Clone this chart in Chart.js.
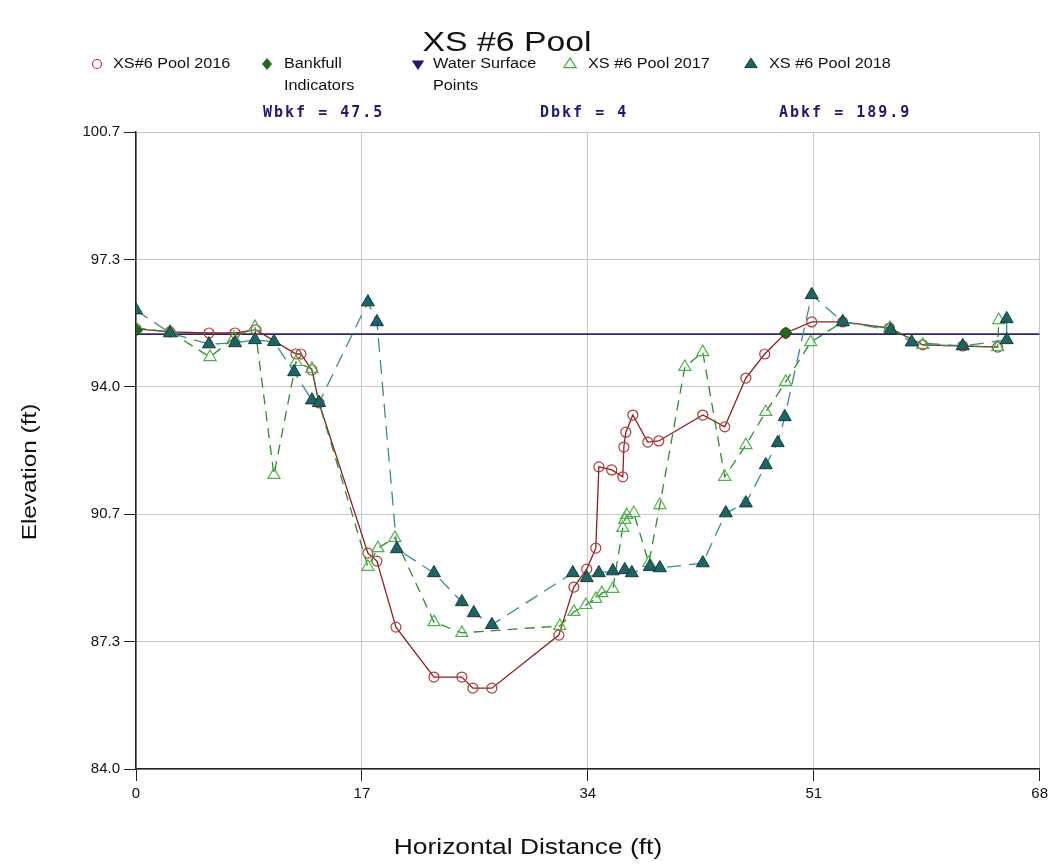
<!DOCTYPE html>
<html><head><meta charset="utf-8">
<script src="https://cdn.jsdelivr.net/npm/chart.js@4.4.0/dist/chart.umd.min.js"></script>
<style>html,body{margin:0;padding:0;background:#fff}#wrap{width:1052px;height:865px;position:relative}</style>
</head><body><div id="wrap"><canvas id="c" width="1052" height="865"></canvas></div>
<script>
// ---- data ----
const x2016 = [0, 2.56, 5.49, 7.45, 9.03, 12.04, 12.41, 13.24, 13.77, 17.45, 18.13, 19.56, 22.42, 24.52, 25.35, 26.78, 31.82, 32.95, 33.92, 34.6, 34.83, 35.8, 36.63, 36.71, 36.86, 37.39, 38.51, 39.34, 42.65, 44.3, 45.89, 47.31, 48.89, 50.85, 53.18, 56.7, 59.2, 62.21, 64.84];
const y2016 = [95.54, 95.46, 95.43, 95.43, 95.51, 94.88, 94.88, 94.46, 93.6, 89.66, 89.45, 87.72, 86.41, 86.41, 86.12, 86.12, 87.51, 88.77, 89.24, 89.79, 91.92, 91.84, 91.66, 92.44, 92.83, 93.28, 92.57, 92.6, 93.28, 92.97, 94.25, 94.88, 95.43, 95.72, 95.72, 95.56, 95.12, 95.09, 95.06];
const x2017 = [0, 2.56, 5.57, 7.37, 8.95, 10.38, 12.04, 13.24, 13.77, 17.45, 18.2, 19.48, 22.42, 24.52, 31.89, 32.95, 33.85, 34.6, 35.05, 35.88, 36.63, 36.78, 36.93, 37.46, 38.59, 39.42, 41.3, 42.65, 44.3, 45.89, 47.39, 48.89, 50.77, 53.18, 56.72, 59.2, 62.21, 64.84, 64.92];
const y2017 = [95.56, 95.46, 94.8, 95.3, 95.59, 91.71, 94.67, 94.49, 93.6, 89.3, 89.79, 90.06, 87.85, 87.57, 87.75, 88.12, 88.3, 88.46, 88.61, 88.72, 90.32, 90.53, 90.66, 90.71, 89.4, 90.92, 94.54, 94.93, 91.66, 92.49, 93.36, 94.15, 95.19, 95.72, 95.56, 95.12, 95.09, 95.06, 95.77];
const x2018 = [0, 2.56, 5.49, 7.45, 8.95, 10.38, 11.9, 13.24, 13.77, 17.45, 18.13, 19.63, 22.42, 24.52, 25.42, 26.78, 32.87, 33.92, 34.83, 35.88, 36.78, 37.31, 38.66, 39.42, 42.65, 44.38, 45.89, 47.39, 48.29, 48.82, 50.85, 53.18, 56.79, 58.37, 62.21, 65.52, 65.52];
const y2018 = [96.03, 95.43, 95.14, 95.17, 95.25, 95.2, 94.41, 93.67, 93.6, 96.24, 95.72, 89.77, 89.14, 88.38, 88.09, 87.78, 89.14, 89.01, 89.14, 89.19, 89.22, 89.14, 89.3, 89.27, 89.4, 90.71, 90.97, 91.97, 92.55, 93.23, 96.43, 95.72, 95.51, 95.19, 95.09, 95.25, 95.8];
const xBankfull = [0, 48.89];
const yBankfull = [95.5, 95.43];
const xWaterLine = [0, 68];
const yWaterLine = [95.4, 95.4];
const xTicks = [0, 17, 34, 51, 68];
const yTicks = [84.0, 87.34, 90.68, 94.02, 97.36, 100.7];
const yTickLabels = ['84.0', '87.3', '90.7', '94.0', '97.3', '100.7'];
const titleText = 'XS #6 Pool';
const legendLabels = [['XS#6 Pool 2016'], ['Bankfull', 'Indicators'], ['Water Surface', 'Points'], ['XS #6 Pool 2017'], ['XS #6 Pool 2018']];
const statLabels = ['Wbkf = 47.5', 'Dbkf = 4', 'Abkf = 189.9'];
const xTitle = 'Horizontal Distance (ft)';
const yTitle = 'Elevation (ft)';

const pts = (xs, ys) => xs.map((x, i) => ({x: x, y: ys[i]}));
const SX = 1.16;
const FONT = '"Liberation Sans", Arial, sans-serif';

function sText(ctx, txt, x, y, font, color, align, sx) {
  ctx.save();
  ctx.font = font; ctx.fillStyle = color; ctx.textBaseline = 'middle'; ctx.textAlign = 'left';
  const w = ctx.measureText(txt).width * sx;
  const x0 = align === 'center' ? x - w / 2 : (align === 'right' ? x - w : x);
  ctx.translate(x0, y); ctx.scale(sx, 1); ctx.fillText(txt, 0, 0);
  ctx.restore();
}
function tri(ctx, x, y, r, down) {
  ctx.beginPath();
  const h = r * 1.5, w = r * 0.866 * 1.5;
  if (!down) { ctx.moveTo(x, y - h * 0.66); ctx.lineTo(x + w * 0.8, y + h * 0.4); ctx.lineTo(x - w * 0.8, y + h * 0.4); }
  else { ctx.moveTo(x, y + h * 0.66); ctx.lineTo(x + w * 0.8, y - h * 0.4); ctx.lineTo(x - w * 0.8, y - h * 0.4); }
  ctx.closePath();
}

const decor = {
  id: 'decor',
  afterDraw(chart) {
    const ctx = chart.ctx;
    // title
    sText(ctx, titleText, 507, 44, '27px ' + FONT, '#111', 'center', 1.25);
    // legend
    const lf = '14px ' + FONT;
    ctx.save(); ctx.strokeStyle = '#b03a3a'; ctx.lineWidth = 1.2; ctx.beginPath(); ctx.arc(97, 64, 4.5, 0, Math.PI * 2); ctx.stroke(); ctx.restore();
    sText(ctx, legendLabels[0][0], 113, 64, lf, '#111', 'left', SX);
    ctx.save(); ctx.fillStyle = '#1e6b1e'; ctx.beginPath(); ctx.moveTo(267, 58); ctx.lineTo(272, 64); ctx.lineTo(267, 70); ctx.lineTo(262, 64); ctx.closePath(); ctx.fill(); ctx.restore();
    sText(ctx, legendLabels[1][0], 284, 64, lf, '#111', 'left', SX);
    sText(ctx, legendLabels[1][1], 284, 86, lf, '#111', 'left', SX);
    ctx.save(); ctx.fillStyle = '#1a1a6e'; tri(ctx, 418, 64, 6, true); ctx.fill(); ctx.restore();
    sText(ctx, legendLabels[2][0], 433, 64, lf, '#111', 'left', SX);
    sText(ctx, legendLabels[2][1], 433, 86, lf, '#111', 'left', SX);
    ctx.save(); ctx.strokeStyle = '#3fae3f'; ctx.lineWidth = 1.2; tri(ctx, 570, 64, 6, false); ctx.stroke(); ctx.restore();
    sText(ctx, legendLabels[3][0], 588, 64, lf, '#111', 'left', SX);
    ctx.save(); ctx.fillStyle = '#1f6464'; ctx.strokeStyle = '#123c3c'; tri(ctx, 751, 64, 6, false); ctx.fill(); ctx.stroke(); ctx.restore();
    sText(ctx, legendLabels[4][0], 769, 64, lf, '#111', 'left', SX);
    // stats
    ctx.save();
    ctx.letterSpacing = '2px';
    const sf = 'bold 15px "DejaVu Sans Mono", monospace';
    sText(ctx, statLabels[0], 263, 113, sf, '#1c1c6e', 'left', 1);
    sText(ctx, statLabels[1], 540, 113, sf, '#1c1c6e', 'left', 1);
    sText(ctx, statLabels[2], 779, 113, sf, '#1c1c6e', 'left', 1);
    ctx.restore();
    // axis titles
    sText(ctx, xTitle, 528, 848, '22px ' + FONT, '#111', 'center', 1.2);
    ctx.save(); ctx.translate(30, 472); ctx.rotate(-Math.PI / 2);
    sText(ctx, yTitle, 0, 0, '21px ' + FONT, '#111', 'center', 1.16);
    ctx.restore();
  }
};

new Chart(document.getElementById('c'), {
  type: 'scatter',
  data: {
    datasets: [
      { label: 'XS #6 Pool 2018', data: pts(x2018, y2018), showLine: true, order: 0,
        borderColor: '#3b8c8c', borderWidth: 1.3, borderDash: [14, 8],
        pointStyle: 'triangle', pointRadius: 7.5, pointBackgroundColor: '#1f6464', pointBorderColor: '#123c3c', pointBorderWidth: 1 },
      { label: 'Bankfull Indicators', data: pts(xBankfull, yBankfull), showLine: false, order: 1,
        pointStyle: 'rectRot', pointRadius: 6, pointBackgroundColor: '#1e6b1e', pointBorderColor: '#124012', pointBorderWidth: 1 },
      { label: 'XS #6 Pool 2017', data: pts(x2017, y2017), showLine: true, order: 2,
        borderColor: '#2e8b2e', borderWidth: 1.3, borderDash: [10, 7],
        pointStyle: 'triangle', pointRadius: 7, pointBackgroundColor: 'rgba(0,0,0,0)', pointBorderColor: '#4cb44c', pointBorderWidth: 1.2 },
      { label: 'XS#6 Pool 2016', data: pts(x2016, y2016), showLine: true, order: 3,
        borderColor: '#8b2020', borderWidth: 1.3,
        pointStyle: 'circle', pointRadius: 5, pointBackgroundColor: 'rgba(0,0,0,0)', pointBorderColor: '#b03a3a', pointBorderWidth: 1.2 },
      { label: 'Water Surface', data: pts(xWaterLine, yWaterLine), showLine: true, order: 4,
        borderColor: '#2a2a62', borderWidth: 1.6, pointRadius: 0 }
    ]
  },
  options: {
    responsive: false, animation: false, devicePixelRatio: 1,
    layout: { padding: { top: 132, right: 12, left: 0, bottom: 0 } },
    plugins: { legend: { display: false }, tooltip: { enabled: false }, title: { display: false } },
    scales: {
      x: {
        type: 'linear', min: 0, max: 68,
        afterBuildTicks: s => { s.ticks = xTicks.map(v => ({ value: v })); },
        afterFit: s => { s.height = 96; },
        ticks: { font: { family: 'Liberation Sans', size: 15 }, color: '#111', padding: 4, maxRotation: 0, autoSkip: false },
        grid: { color: '#c8c8c8', lineWidth: 1, tickColor: '#222', tickLength: 12 },
        border: { color: '#222', width: 1.5 }
      },
      y: {
        type: 'linear', min: 84, max: 100.7,
        afterBuildTicks: s => { s.ticks = yTicks.map(v => ({ value: v })); },
        afterFit: s => { s.width = 136; },
        ticks: { font: { family: 'Liberation Sans', size: 15 }, color: '#111', padding: 4, autoSkip: false,
                 callback: (v, i) => yTickLabels[i] },
        grid: { color: '#c8c8c8', lineWidth: 1, tickColor: '#222', tickLength: 12 },
        border: { color: '#222', width: 1.5 }
      }
    }
  },
  plugins: [decor]
});
</script></body></html>
